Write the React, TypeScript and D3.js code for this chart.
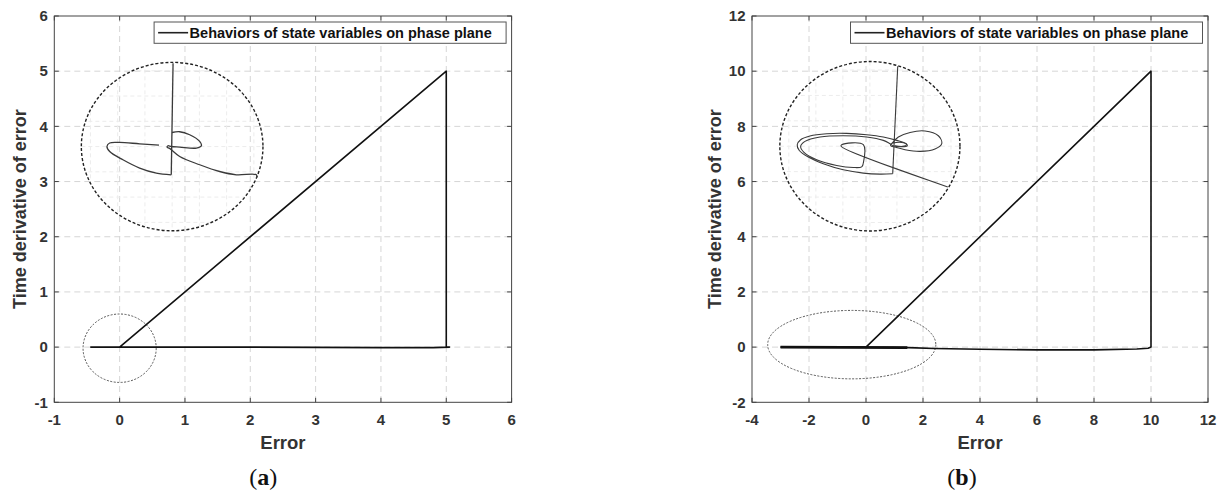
import React from 'react'
import * as d3 from 'd3'

type Pt = [number, number]

// axis ticks
const ticksAX = [-1, 0, 1, 2, 3, 4, 5, 6]
const ticksAY = [-1, 0, 1, 2, 3, 4, 5, 6]
const ticksBX = [-4, -2, 0, 2, 4, 6, 8, 10, 12]
const ticksBY = [-2, 0, 2, 4, 6, 8, 10, 12]

const legendLabel = 'Behaviors of state variables on phase plane'
const xLabel = 'Error'
const yLabel = 'Time derivative of error'

// phase trajectories (error, d error / dt)
const trajA: Pt[] = [[0, 0], [5, 5], [5, 0], [5.05, 0], [4.8, -0.01], [4, -0.01], [2, 0], [0, 0], [-0.45, 0]]
const trajB: Pt[] = [[0, 0], [10, 10], [10, 0], [9.9, -0.04], [9.5, -0.07], [8, -0.1], [6, -0.1],
  [4, -0.08], [2.4, -0.05], [1.5, -0.02], [0, 0], [-3, 0]]
// overlapping strip near the origin in (b), looks heavier
const thickB: Pt[] = [[-3, 0], [1.45, -0.02]]

// dashed ellipse marking the zoomed region (data units)
const zoomA = { cx: 0, cy: -0.02, rx: 0.56, ry: 0.62 }
const zoomB = { cx: -0.5, cy: 0.09, rx: 2.95, ry: 1.24 }

// the magnifier circles (data units)
const lensA = { cx: 0.804, cy: 3.634, rx: 1.39, ry: 1.526 }
const lensB = { cx: 0.137, cy: 7.28, rx: 3.16, ry: 3.07 }

// what is drawn inside the magnifier, in lens units (-1..1)
const insetA: Pt[][] = [
  [[0.01, 0.99], [-0.01, -0.335]],
  [[-0.01, -0.335], [-0.174, -0.315], [-0.358, -0.255], [-0.542, -0.157], [-0.688, -0.058],
    [-0.718, 0.001], [-0.688, 0.042], [-0.578, 0.049], [-0.358, 0.033], [-0.145, 0.018]],
  [[-0.002, 0.167], [0.083, 0.176], [0.193, 0.14], [0.303, 0.061], [0.322, 0.01], [0.267, -0.018],
    [0.083, -0.006], [-0.009, 0.001], [-0.046, 0.01], [-0.055, -0.008], [-0.028, -0.022],
    [0.083, -0.118], [0.303, -0.216], [0.523, -0.296], [0.707, -0.335], [0.927, -0.335], [0.93, -0.37]],
]
const insetB: Pt[][] = [
  [[0.309, 0.945], [0.253, -0.325]],
  [[0.253, -0.325], [0.112, -0.329], [-0.073, -0.317], [-0.296, -0.278], [-0.518, -0.207],
    [-0.684, -0.128], [-0.784, -0.05], [-0.807, 0.018], [-0.769, 0.077], [-0.666, 0.121],
    [-0.48, 0.148], [-0.258, 0.152], [-0.036, 0.136], [0.149, 0.109], [0.298, 0.069],
    [0.401, 0.03], [0.416, 0.006], [0.353, -0.006], [0.26, 0.006], [0.223, 0.03],
    [0.149, 0.069], [-0.036, 0.109], [-0.296, 0.124], [-0.554, 0.109], [-0.721, 0.057],
    [-0.769, -0.002], [-0.732, -0.073], [-0.591, -0.16], [-0.369, -0.227], [-0.184, -0.251],
    [-0.091, -0.243], [-0.073, -0.199]],
  [[-0.073, -0.199], [-0.073, 0.018], [-0.313, 0.018], [-0.321, 0.002], [0.865, -0.48]],
  [[0.242, 0.03], [0.316, 0.109], [0.446, 0.163], [0.612, 0.18], [0.76, 0.124], [0.798, 0.03],
    [0.723, -0.033], [0.557, -0.061], [0.39, -0.041], [0.279, -0.01], [0.231, 0.006],
    [0.238, 0.03], [0.353, 0.045], [0.409, 0.022], [0.364, -0.002], [0.279, 0.006]],
]
const insetGrid = [-0.9, -0.6, -0.3, 0, 0.3, 0.6, 0.9]

const FONT = '"Liberation Sans", Arial, sans-serif'
const TOP = 16
const BOTTOM = 402.3

const Panel = ({ id, x0, x1, xTicks, yTicks, traj, thick, zoom, lens, inset, insetW, yLabelX, tag, tagX }) => {
  const x = d3.scaleLinear().domain(d3.extent(xTicks) as [number, number]).range([x0, x1])
  const y = d3.scaleLinear().domain(d3.extent(yTicks) as [number, number]).range([BOTTOM, TOP])
  const line = d3.line<Pt>().x((d) => x(d[0])).y((d) => y(d[1]))

  // lens units -> pixels, through the main scales
  const lx = d3.scaleLinear().domain([-1, 1]).range([x(lens.cx - lens.rx), x(lens.cx + lens.rx)])
  const ly = d3.scaleLinear().domain([-1, 1]).range([y(lens.cy - lens.ry), y(lens.cy + lens.ry)])
  const smooth = d3.line<Pt>().x((d) => lx(d[0])).y((d) => ly(d[1])).curve(d3.curveCatmullRom.alpha(0.5))
  const lcx = lx(0), lcy = ly(0), lrx = lx(1) - lx(0), lry = ly(-1) - ly(0)

  const legRight = x1 - 5.5
  const legLeft = legRight - 352

  return (
    <g>
      <defs>
        <clipPath id={`lens-${id}`}>
          <ellipse cx={lcx} cy={lcy} rx={lrx} ry={lry} />
        </clipPath>
      </defs>

      {/* grid */}
      <g stroke="#d6d6d6" strokeDasharray="6,4" strokeWidth={1}>
        {xTicks.slice(1, -1).map((t) => <line key={`gx${t}`} x1={x(t)} x2={x(t)} y1={TOP} y2={BOTTOM} />)}
        {yTicks.slice(1, -1).map((t) => <line key={`gy${t}`} x1={x0} x2={x1} y1={y(t)} y2={y(t)} />)}
      </g>

      {/* faint magnified grid inside the lens */}
      <g clipPath={`url(#lens-${id})`} stroke="#ececec" strokeDasharray="4,3" strokeWidth={1}>
        {insetGrid.map((g) => <line key={`iu${g}`} x1={lx(g)} x2={lx(g)} y1={lcy - lry} y2={lcy + lry} />)}
        {insetGrid.map((g) => <line key={`iv${g}`} x1={lcx - lrx} x2={lcx + lrx} y1={ly(g)} y2={ly(g)} />)}
      </g>

      {/* zoom region marker */}
      <ellipse cx={x(zoom.cx)} cy={y(zoom.cy)} rx={x(zoom.cx + zoom.rx) - x(zoom.cx)}
        ry={y(zoom.cy) - y(zoom.cy + zoom.ry)} fill="none" stroke="#555" strokeWidth={1} strokeDasharray="2,1.5" />

      {/* trajectory */}
      <path d={line(traj) ?? ''} fill="none" stroke="#111" strokeWidth={1.6} strokeLinejoin="round" />
      {thick && <path d={line(thick) ?? ''} fill="none" stroke="#111" strokeWidth={2.6} />}

      {/* lens */}
      <ellipse cx={lcx} cy={lcy} rx={lrx} ry={lry} fill="none" stroke="#222" strokeWidth={1.4} strokeDasharray="3,2" />
      {inset.map((seg, i) => (
        <path key={`in${i}`} d={smooth(seg) ?? ''} fill="none" stroke="#3a3a3a" strokeWidth={insetW} />
      ))}

      {/* frame and inward ticks */}
      <rect x={x0} y={TOP} width={x1 - x0} height={BOTTOM - TOP} fill="none" stroke="#444" strokeWidth={1} />
      <g stroke="#444" strokeWidth={1}>
        {xTicks.map((t) => (
          <g key={`tx${t}`}>
            <line x1={x(t)} x2={x(t)} y1={BOTTOM} y2={BOTTOM - 4.5} />
            <line x1={x(t)} x2={x(t)} y1={TOP} y2={TOP + 4.5} />
          </g>
        ))}
        {yTicks.map((t) => (
          <g key={`ty${t}`}>
            <line x1={x0} x2={x0 + 4.5} y1={y(t)} y2={y(t)} />
            <line x1={x1} x2={x1 - 4.5} y1={y(t)} y2={y(t)} />
          </g>
        ))}
      </g>

      {/* tick labels */}
      <g fontFamily={FONT} fontWeight="bold" fontSize={15} fill="#333">
        {xTicks.map((t) => <text key={`lx${t}`} x={x(t)} y={424.5} textAnchor="middle">{String(t)}</text>)}
        {yTicks.map((t) => <text key={`ly${t}`} x={x0 - 6.5} y={y(t) + 5.3} textAnchor="end">{String(t)}</text>)}
      </g>

      {/* axis labels */}
      <text x={(x0 + x1) / 2} y={448.5} textAnchor="middle" fontFamily={FONT} fontWeight="bold" fontSize={18.5} fill="#333">{xLabel}</text>
      <text transform={`translate(${yLabelX},209) rotate(-90)`} textAnchor="middle" fontFamily={FONT}
        fontWeight="bold" fontSize={18} fill="#333">{yLabel}</text>

      {/* legend */}
      <rect x={legLeft} y={22} width={legRight - legLeft} height={21.3} fill="#fff" stroke="#555" strokeWidth={1} />
      <line x1={legLeft + 4} x2={legLeft + 34} y1={32.7} y2={32.7} stroke="#222" strokeWidth={1.6} />
      <text x={legLeft + 35.5} y={38} fontFamily={FONT} fontWeight="bold" fontSize={14.5} fill="#111">{legendLabel}</text>

      {/* panel tag */}
      <text x={tagX} y={485} textAnchor="middle" fontFamily='"Liberation Serif", "Times New Roman", serif' fontSize={24} fill="#111">
        (<tspan fontWeight="bold">{tag}</tspan>)
      </text>
    </g>
  )
}

export default function App() {
  return (
    <svg width={1220} height={491} style={{ position: 'absolute', left: 0, top: 0, background: '#fff' }}>
      <rect width={1220} height={491} fill="#fff" />
      <Panel id="a" x0={54.3} x1={511.6} xTicks={ticksAX} yTicks={ticksAY} traj={trajA} thick={null}
        zoom={zoomA} lens={lensA} inset={insetA} insetW={1.3} yLabelX={26} tag="a" tagX={263.3} />
      <Panel id="b" x0={752} x1={1208} xTicks={ticksBX} yTicks={ticksBY} traj={trajB} thick={thickB}
        zoom={zoomB} lens={lensB} inset={insetB} insetW={1.1} yLabelX={720.5} tag="b" tagX={962} />
    </svg>
  )
}
